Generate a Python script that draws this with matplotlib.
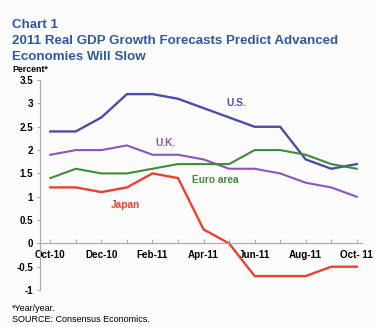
import numpy as np
import matplotlib.pyplot as plt

plt.rcParams['font.family'] = ['Liberation Sans', 'DejaVu Sans']

months = ['Oct-10', 'Nov-10', 'Dec-10', 'Jan-11', 'Feb-11', 'Mar-11', 'Apr-11',
          'May-11', 'Jun-11', 'Jul-11', 'Aug-11', 'Sep-11', 'Oct- 11']
us = [2.4, 2.4, 2.7, 3.2, 3.2, 3.1, 2.9, 2.7, 2.5, 2.5, 1.8, 1.6, 1.7]
uk = [1.9, 2.0, 2.0, 2.1, 1.9, 1.9, 1.8, 1.6, 1.6, 1.5, 1.3, 1.2, 1.0]
euro = [1.4, 1.6, 1.5, 1.5, 1.6, 1.7, 1.7, 1.7, 2.0, 2.0, 1.9, 1.7, 1.6]
japan = [1.2, 1.2, 1.1, 1.2, 1.5, 1.4, 0.3, 0.0, -0.7, -0.7, -0.7, -0.5, -0.5]
yticks = [-1, -0.5, 0, 0.5, 1, 1.5, 2, 2.5, 3, 3.5]

title_col = '#2f5a9e'
c_us, c_uk, c_euro, c_jp = '#4a4ea6', '#8c55b8', '#3f8a3c', '#e8432e'

fig = plt.figure(figsize=(3.75, 3.27), dpi=100)
fig.patch.set_facecolor('#fbfbfb')
ax = fig.add_axes([0.107, 0.113, 0.858, 0.642])
ax.set_facecolor('#fbfbfb')

# axis line sits on zero; set before tick styling since it resets ticks
for s in ['top', 'right']:
    ax.spines[s].set_visible(False)
ax.spines['bottom'].set_position(('data', 0))
ax.spines['bottom'].set_color('#aaaaaa')
ax.spines['left'].set_color('#aaaaaa')

x = np.arange(len(months))
ax.plot(x, us, color=c_us, lw=1.7)
ax.plot(x, uk, color=c_uk, lw=1.5)
ax.plot(x, euro, color=c_euro, lw=1.5)
ax.plot(x, japan, color=c_jp, lw=1.7)

lab = dict(fontsize=7.3, fontweight='bold', ha='center', va='center')
ax.text(7.27, 3.0, 'U.S.', color=c_us, **lab)
ax.text(4.5, 2.15, 'U.K.', color=c_uk, **lab)
ax.text(6.45, 1.35, 'Euro area', color=c_euro, **lab)
ax.text(2.93, 0.82, 'Japan', color=c_jp, **lab)

ax.set_xlim(-0.4, 12.2)
ax.set_ylim(-1, 3.5)
ax.set_yticks(yticks)
ax.set_yticklabels([f'{v:g}' for v in yticks], fontsize=7, fontweight='bold')
ax.set_xticks(x)
ax.set_xticklabels([m if i % 2 == 0 else '' for i, m in enumerate(months)],
                   fontsize=7.1, fontweight='bold')
ax.tick_params(axis='x', direction='in', length=3, color='#aaaaaa', pad=5)
ax.tick_params(axis='y', direction='out', length=2, color='#aaaaaa', pad=3)

tkw = dict(color=title_col, fontsize=9.6, fontweight='bold')
fig.text(0.032, 0.915, 'Chart 1', **tkw)
fig.text(0.032, 0.866, '2011 Real GDP Growth Forecasts Predict Advanced', **tkw)
fig.text(0.032, 0.818, 'Economies Will Slow', **tkw)
fig.text(0.032, 0.78, 'Percent*', fontsize=6.3, fontweight='bold')
fig.text(0.032, 0.05, '*Year/year.', fontsize=6.5)
fig.text(0.032, 0.014, 'SOURCE: Consensus Economics.', fontsize=6.5)

fig.savefig('out.png', dpi=100, facecolor=fig.get_facecolor())
